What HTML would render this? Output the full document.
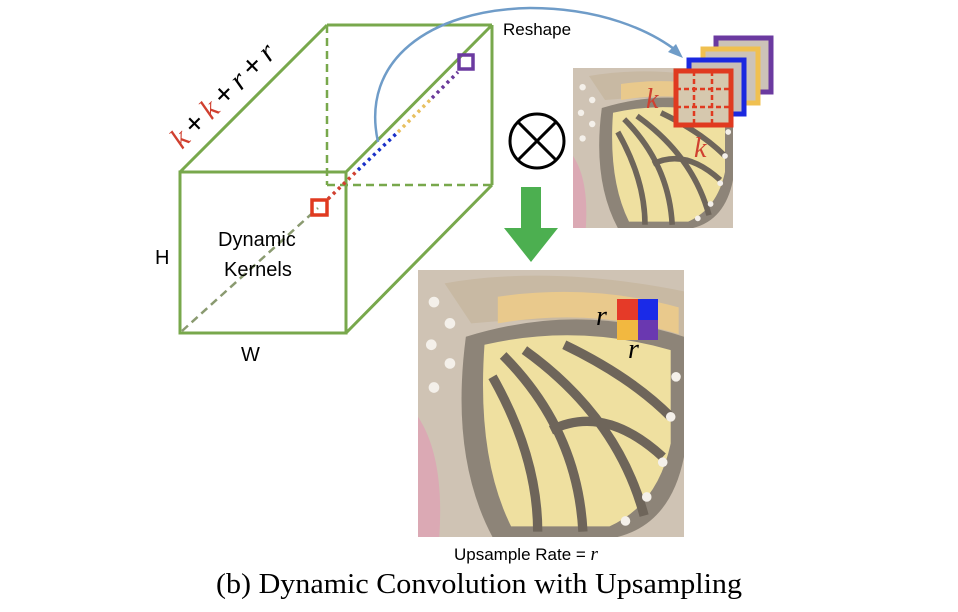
<!DOCTYPE html>
<html><head><style>
body{margin:0;background:#fff;}
svg{display:block;}
</style></head><body>
<svg width="958" height="612" viewBox="0 0 958 612" font-family="Liberation Sans, sans-serif">
<defs>
<g id="bfly">
<rect x="0" y="0" width="100" height="100" fill="#cfc3b4"/>
<path d="M0,55 Q10,70 8,100 L0,100Z" fill="#dba9b4"/>
<path d="M10,5 Q50,-2 100,8 L100,30 Q70,15 20,20Z" fill="#c8b9a3"/>
<path d="M18,25 Q60,12 100,25 L100,70 Q95,95 75,100 L28,100 Q12,70 18,25Z" fill="#8d8478"/>
<path d="M25,28 Q60,20 95,30 L95,65 Q90,88 72,96 L35,96 Q22,70 25,28Z" fill="#efe0a0"/>
<path d="M30,10 Q65,5 98,14 L98,24 Q65,14 30,20Z" fill="#e9c98c"/>
<g stroke="#6e655a" stroke-width="3.5" fill="none">
<path d="M28,40 Q45,70 45,98"/><path d="M32,32 Q60,60 62,98"/><path d="M40,30 Q75,55 85,92"/>
<path d="M55,28 Q80,40 95,55"/><path d="M50,60 Q70,50 92,70"/>
</g>
<g fill="#f4f0ea"><circle cx="6" cy="12" r="2"/><circle cx="12" cy="20" r="2"/><circle cx="5" cy="28" r="2"/><circle cx="12" cy="35" r="2"/><circle cx="6" cy="44" r="2"/><circle cx="97" cy="40" r="1.8"/><circle cx="95" cy="55" r="1.8"/><circle cx="92" cy="72" r="1.8"/><circle cx="86" cy="85" r="1.8"/><circle cx="78" cy="94" r="1.8"/></g>
</g>
</defs>

<g stroke="#78a84c" stroke-width="3" fill="none">
<rect x="180" y="172" width="166" height="161"/>
<line x1="180" y1="172" x2="327" y2="25"/>
<line x1="327" y1="25" x2="492" y2="25"/>
<line x1="346" y1="172" x2="492" y2="25"/>
<line x1="492" y1="25" x2="492" y2="185"/>
<line x1="346" y1="333" x2="492" y2="185"/>
</g>
<g stroke="#78a84c" stroke-width="2.5" fill="none" stroke-dasharray="8,5">
<line x1="327" y1="25" x2="327" y2="185"/>
<line x1="327" y1="185" x2="492" y2="185"/>
<line x1="182" y1="331" x2="318" y2="208" stroke="#8a9a70"/>
</g>
<g stroke-width="3.5" stroke-dasharray="3,4">
<line x1="328" y1="199" x2="358" y2="170" stroke="#d04030"/>
<line x1="358" y1="170" x2="398" y2="132" stroke="#1a30c8"/>
<line x1="398" y1="132" x2="432" y2="98" stroke="#e8c060"/>
<line x1="432" y1="98" x2="458" y2="72" stroke="#6a3a9a"/>
</g>
<rect x="312" y="200" width="15" height="15" fill="none" stroke="#e03a20" stroke-width="3.5"/>
<rect x="459" y="55" width="14" height="14" fill="none" stroke="#6b3aa0" stroke-width="3.5"/>
<text x="218" y="246" font-size="20">Dynamic</text>
<text x="224" y="276" font-size="20">Kernels</text>
<text x="155" y="264" font-size="20">H</text>
<text x="241" y="361" font-size="20">W</text>
<text transform="translate(182,150) rotate(-45)" font-size="30" textLength="135" style="font-family:'Liberation Serif',serif"><tspan fill="#d04030" font-style="italic">k</tspan><tspan style="font-family:'Liberation Sans',sans-serif"> + </tspan><tspan fill="#d04030" font-style="italic">k</tspan><tspan style="font-family:'Liberation Sans',sans-serif"> + </tspan><tspan font-style="italic">r</tspan><tspan style="font-family:'Liberation Sans',sans-serif"> + </tspan><tspan font-style="italic">r</tspan></text>

<path d="M378,142 C360,60 430,10 530,8 C600,8 650,30 678,52" stroke="#6f9cc8" stroke-width="2.5" fill="none"/>
<path d="M683,58 L668,52 L676,44Z" fill="#6f9cc8"/>
<text x="503" y="35" font-size="17">Reshape</text>

<circle cx="537" cy="141" r="27" fill="none" stroke="#000" stroke-width="3"/>
<line x1="518" y1="122" x2="556" y2="160" stroke="#000" stroke-width="3"/>
<line x1="556" y1="122" x2="518" y2="160" stroke="#000" stroke-width="3"/>

<path d="M521,187 L541,187 L541,228 L558,228 L531,262 L504,228 L521,228Z" fill="#4caf50"/>

<svg x="573" y="68" width="160" height="160" viewBox="0 0 100 100" preserveAspectRatio="none"><use href="#bfly"/></svg>
<rect x="716" y="38" width="55" height="54" fill="#ccc3b8" stroke="#6b3aa0" stroke-width="5"/>
<rect x="703" y="49" width="55" height="54" fill="#ccc3b8" stroke="#f0c050" stroke-width="5"/>
<rect x="689" y="60" width="55" height="54" fill="#c9c0b6" stroke="#1a28e0" stroke-width="5"/>
<rect x="676" y="71" width="55" height="54" fill="#d6c8ae" stroke="#e03a20" stroke-width="5"/>
<g stroke="#e03a20" stroke-width="2.5" stroke-dasharray="5,3">
<line x1="676" y1="89" x2="731" y2="89"/><line x1="676" y1="107" x2="731" y2="107"/>
<line x1="694" y1="71" x2="694" y2="125"/><line x1="712" y1="71" x2="712" y2="125"/>
</g>
<text x="646" y="108" font-size="28" font-style="italic" fill="#d04030" style="font-family:'Liberation Serif',serif">k</text>
<text x="694" y="157" font-size="28" font-style="italic" fill="#d04030" style="font-family:'Liberation Serif',serif">k</text>

<svg x="418" y="270" width="266" height="267" viewBox="0 0 100 100" preserveAspectRatio="none"><use href="#bfly"/></svg>
<rect x="617" y="299" width="21" height="21" fill="#e53a28"/>
<rect x="638" y="299" width="20" height="21" fill="#1a2ae8"/>
<rect x="617" y="320" width="21" height="20" fill="#f2b840"/>
<rect x="638" y="320" width="20" height="20" fill="#6a38b0"/>
<text x="596" y="325" font-size="28" font-style="italic" style="font-family:'Liberation Serif',serif">r</text>
<text x="628" y="358" font-size="28" font-style="italic" style="font-family:'Liberation Serif',serif">r</text>

<text x="454" y="560" font-size="17">Upsample Rate = <tspan font-style="italic" style="font-family:'Liberation Serif',serif" font-size="19">r</tspan></text>
<text x="216" y="593" font-size="28" textLength="526" lengthAdjust="spacingAndGlyphs" style="font-family:'Liberation Serif',serif">(b) Dynamic Convolution with Upsampling</text>
</svg>
</body></html>
